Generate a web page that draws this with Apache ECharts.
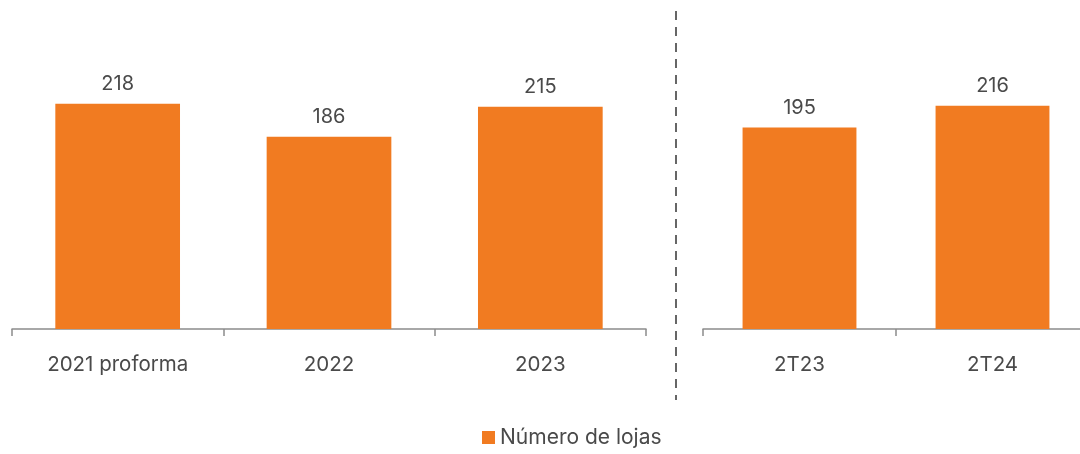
<!DOCTYPE html>
<html>
<head>
<meta charset="utf-8">
<script src="https://cdn.jsdelivr.net/npm/echarts@6/dist/echarts.min.js"></script>
<style>
  html, body { margin: 0; padding: 0; background: #fff; overflow: hidden; }
  /* a bit wider than the window: the right axis runs past the edge in the original */
  #chart { width: 1089px; height: 454px; }
</style>
</head>
<body>
<div id="chart"></div>
<script>
const yearCats = ["2021 proforma", "2022", "2023"];
const yearValues = [218, 186, 215];
const quarterCats = ["2T23", "2T24"];
const quarterValues = [195, 216];
const seriesName = "Número de lojas";

const barColor = "#F17B21";
const textColor = "#4a4a4a";
const fontFamily = "Inter, 'Noto Sans', sans-serif";

const chart = echarts.init(document.getElementById("chart"));

const xAxisBase = {
  type: "category",
  axisLine: { lineStyle: { color: "#8c8c8c", width: 1.5 } },
  axisTick: { show: true, length: 7, lineStyle: { color: "#8c8c8c", width: 1.5 } },
  axisLabel: { color: textColor, fontSize: 20.5, fontFamily: fontFamily, margin: 25 },
};
const yAxisBase = {
  type: "value",
  min: 0,
  max: 300,
  show: false,
  splitLine: { show: false },
};
const labelBase = {
  show: true,
  position: "top",
  distance: 10,
  color: textColor,
  fontSize: 20,
  fontFamily: fontFamily,
};

const option = {
  animation: false,
  grid: [
    { left: 12, width: 634, top: 19, bottom: 125 },
    { left: 703, right: 0, top: 19, bottom: 125 },
  ],
  xAxis: [
    Object.assign({ gridIndex: 0, data: yearCats }, xAxisBase),
    Object.assign({ gridIndex: 1, data: quarterCats }, xAxisBase),
  ],
  yAxis: [
    Object.assign({ gridIndex: 0 }, yAxisBase),
    Object.assign({ gridIndex: 1 }, yAxisBase),
  ],
  legend: {
    data: [seriesName],
    bottom: 1,
    left: 477,
    itemWidth: 13,
    itemHeight: 13,
    icon: "rect",
    itemGap: 10,
    textStyle: { color: textColor, fontSize: 21, fontFamily: fontFamily },
  },
  graphic: [
    {
      type: "line",
      shape: { x1: 676, y1: 11, x2: 676, y2: 400 },
      style: { stroke: "#666666", lineWidth: 2, lineDash: [9, 7] },
    },
  ],
  series: [
    {
      name: seriesName,
      type: "bar",
      xAxisIndex: 0,
      yAxisIndex: 0,
      data: yearValues,
      barWidth: "59%",
      itemStyle: { color: barColor },
      label: labelBase,
    },
    {
      name: seriesName,
      type: "bar",
      xAxisIndex: 1,
      yAxisIndex: 1,
      data: quarterValues,
      barWidth: "59%",
      itemStyle: { color: barColor },
      label: labelBase,
    },
  ],
};

chart.setOption(option);
</script>
</body>
</html>
